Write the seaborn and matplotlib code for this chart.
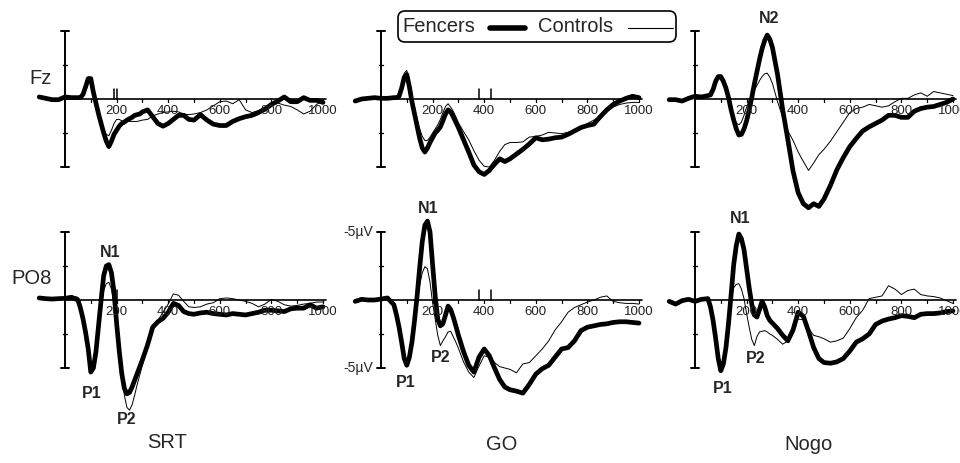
import matplotlib
matplotlib.use("Agg")
import matplotlib.pyplot as plt
import seaborn as sns
from matplotlib.patches import FancyBboxPatch

# time points (ms)
t = [-100, -75, -50, -25, 0, 25, 50, 60, 70, 80, 90, 100, 110, 120, 130, 140, 150,
     160, 170, 180, 190, 200, 210, 220, 230, 240, 250, 260, 270, 280, 290, 300,
     320, 340, 360, 380, 400, 420, 440, 460, 480, 500, 525, 550, 575, 600, 625,
     650, 675, 700, 725, 750, 775, 800, 825, 850, 875, 900, 925, 950, 975, 1000]

# amplitudes in microvolt (negative is drawn upwards)
fz_srt_fencers = [-0.15, -0.05, 0.05, 0.05, -0.15, -0.1, -0.1, -0.1, -0.35, -0.9, -1.5, -1.5, -0.5, 0.3, 1.1, 1.8, 2.5,
                  3.1, 3.5, 3.1, 2.6, 2.3, 2.0, 1.8, 1.7, 1.55, 1.45, 1.35, 1.2, 1.15, 1.1, 0.95,
                  0.8, 1.3, 1.8, 2.0, 1.8, 1.5, 1.2, 1.2, 1.5, 1.55, 1.15, 1.55, 1.85, 1.95, 1.95,
                  1.65, 1.45, 1.3, 1.2, 1.0, 0.75, 0.4, 0.15, -0.15, 0.2, 0.2, -0.1, 0.1, 0.1, 0.25]
fz_srt_controls = [-0.1, 0.0, 0.05, 0.05, -0.1, -0.1, -0.05, -0.1, -0.4, -1.0, -1.6, -1.6, -0.7, 0.1, 0.9, 1.6, 2.2,
                   2.6, 2.7, 2.3, 1.8, 1.5, 1.5, 1.6, 1.65, 1.65, 1.65, 1.65, 1.65, 1.65, 1.6, 1.55,
                   1.5, 1.25, 1.1, 1.0, 0.95, 0.9, 0.95, 1.1, 1.15, 1.1, 1.0, 0.8, 0.5, 0.2, 0.15,
                   0.35, 0.05, 0.8, 1.0, 0.85, 0.6, 0.5, 0.3, 0.45, 0.55, 0.8, 1.1, 0.9, 0.4, 0.15]
fz_go_fencers = [0.15, 0.0, -0.05, -0.1, -0.05, -0.05, -0.1, -0.1, -0.2, -0.8, -1.6, -1.8, -0.9, 0.2, 1.1, 2.0, 2.9,
                 3.6, 3.9, 3.6, 3.2, 2.85, 2.5, 2.3, 2.05, 1.6, 1.1, 0.8, 0.95, 1.3, 1.7, 2.1,
                 3.0, 3.9, 4.85, 5.35, 5.55, 5.25, 4.8, 4.4, 4.6, 4.4, 4.05, 3.7, 3.3, 2.85, 3.0,
                 2.95, 2.85, 2.8, 2.6, 2.35, 2.1, 1.95, 1.85, 1.3, 0.8, 0.4, 0.15, -0.05, -0.2, -0.1]
fz_go_controls = [0.15, 0.0, -0.05, -0.1, -0.05, -0.05, -0.1, -0.1, -0.3, -1.0, -1.9, -2.1, -1.2, -0.2, 0.7, 1.5, 2.2,
                  2.75, 3.05, 3.05, 2.8, 2.5, 2.2, 1.9, 1.5, 1.0, 0.55, 0.35, 0.6, 0.9, 1.3, 1.75,
                  2.4, 3.0, 3.8, 4.5, 4.95, 5.0, 4.5, 3.85, 3.35, 3.2, 3.2, 3.15, 2.8, 2.75, 2.65,
                  2.45, 2.5, 2.55, 2.45, 2.4, 2.2, 1.8, 1.55, 1.25, 0.95, 0.6, 0.4, 0.3, 0.25, 0.25]
fz_nogo_fencers = [0.05, 0.05, 0.15, -0.05, -0.2, -0.15, -0.25, -0.3, -0.7, -1.3, -1.65, -1.65, -1.3, -0.8, -0.1, 0.8, 1.55,
                   2.2, 2.65, 2.6, 2.2, 1.6, 0.8, -0.1, -1.1, -2.0, -2.9, -3.7, -4.3, -4.7, -4.4, -3.8,
                   -1.8, 0.8, 3.0, 5.3, 6.9, 7.7, 8.0, 7.7, 7.9, 7.35, 6.35, 5.2, 4.3, 3.5, 2.9,
                   2.35, 2.05, 1.8, 1.55, 1.2, 1.2, 1.35, 1.35, 0.9, 0.7, 0.6, 0.55, 0.4, 0.25, 0.0]
fz_nogo_controls = [0.05, 0.05, 0.15, -0.05, -0.2, -0.15, -0.25, -0.3, -0.7, -1.2, -1.55, -1.55, -1.2, -0.7, -0.1, 0.7, 1.3,
                    1.75, 1.9, 1.7, 1.2, 0.6, 0.1, -0.3, -0.65, -1.0, -1.35, -1.65, -1.85, -1.9, -1.6, -1.15,
                    0.2, 1.35, 2.35, 3.05, 3.9, 4.6, 5.25, 4.7, 4.1, 3.7, 3.1, 2.4, 1.7, 1.0, 0.7,
                    0.6, 0.4, 0.5, 0.6, 0.5, 0.2, -0.05, -0.05, -0.3, -0.45, -0.2, -0.55, -0.45, -0.35, -0.25]
po8_srt_fencers = [-0.15, -0.1, -0.07, -0.1, -0.12, -0.2, 0.0, 0.6, 1.4, 2.4, 3.6, 5.3, 5.0, 3.8, 1.9, 0.0, -1.8,
                   -2.5, -2.6, -2.0, -0.6, 1.7, 3.7, 5.4, 6.5, 6.9, 6.8, 6.4, 5.9, 5.4, 4.9, 4.4,
                   3.3, 2.0, 1.6, 1.35, 0.9, 0.25, 0.4, 0.85, 1.0, 1.05, 0.95, 0.9, 1.0, 1.05, 1.1,
                   1.0, 1.05, 1.1, 1.0, 0.9, 0.75, 0.75, 0.8, 0.85, 0.65, 0.6, 0.6, 0.35, 0.6, 0.5]
po8_srt_controls = [-0.15, -0.1, -0.07, -0.1, -0.1, -0.3, -0.2, 0.5, 1.3, 2.3, 3.5, 5.2, 5.1, 3.9, 2.1, 0.5, -0.7,
                    -1.2, -1.3, -0.8, 0.3, 2.0, 3.9, 5.6, 7.0, 7.9, 8.1, 7.7, 7.0, 6.2, 5.5, 4.8,
                    3.4, 2.0, 1.5, 0.9, 0.3, -0.45, -0.35, 0.1, 0.5, 0.55, 0.5, 0.3, 0.2, -0.1, -0.15,
                    -0.1, 0.0, 0.1, 0.25, 0.5, 0.3, -0.05, 0.1, 0.35, 0.45, 0.4, 0.3, 0.25, 0.15, 0.15]
po8_go_fencers = [0.1, -0.05, 0.0, 0.0, -0.07, -0.15, 0.35, 1.1, 2.0, 3.1, 4.3, 4.8, 4.2, 3.1, 1.5, -0.3, -2.4,
                  -4.3, -5.5, -5.8, -5.0, -2.6, -0.3, 1.4, 1.9, 1.75, 1.1, 0.45, 0.7, 1.25, 1.9, 2.6,
                  3.8, 4.8, 5.3, 4.2, 3.6, 4.1, 5.0, 5.85, 6.4, 6.6, 6.7, 6.85, 6.2, 5.45, 5.05,
                  4.8, 4.2, 3.6, 3.5, 3.0, 2.25, 2.0, 1.9, 1.8, 1.75, 1.65, 1.6, 1.6, 1.65, 1.7]
po8_go_controls = [0.1, -0.05, 0.0, 0.0, -0.07, -0.15, 0.3, 1.0, 1.9, 3.0, 4.2, 4.7, 4.1, 3.0, 1.6, 0.2, -1.1,
                   -2.0, -2.45, -2.3, -1.3, 0.2, 1.4, 2.6, 3.35, 3.0, 2.7, 2.35, 2.3, 2.7, 3.1, 3.55,
                   4.55, 5.3, 5.7, 4.85, 4.1, 4.2, 4.6, 4.9, 5.0, 5.1, 5.35, 4.7, 4.6, 4.1, 3.6,
                   3.0, 2.2, 1.6, 0.9, 0.55, 0.35, 0.15, 0.0, -0.2, -0.3, 0.1, 0.2, 0.25, 0.25, 0.3]
po8_nogo_fencers = [0.1, 0.3, 0.05, -0.05, 0.1, -0.05, -0.1, 0.5, 1.5, 2.8, 4.3, 5.2, 4.7, 3.5, 1.7, -0.4, -2.6,
                    -4.0, -4.85, -4.5, -3.7, -2.3, -0.9, 0.3, 1.1, 1.25, 0.7, 0.1, 0.5, 1.15, 1.5, 1.7,
                    2.1, 2.6, 3.0, 2.2, 0.9, 1.2, 2.3, 3.5, 4.3, 4.6, 4.65, 4.55, 4.3, 3.75, 3.1,
                    2.85, 2.5, 1.8, 1.55, 1.4, 1.3, 1.15, 1.2, 1.3, 1.05, 1.0, 1.0, 0.95, 0.85, 0.8]
po8_nogo_controls = [0.1, 0.3, 0.05, -0.05, 0.1, -0.05, -0.1, 0.5, 1.5, 2.8, 4.2, 5.0, 4.5, 3.2, 1.5, 0.0, -0.9,
                     -1.15, -1.2, -0.8, -0.1, 1.0, 2.0, 2.9, 3.35, 2.7, 2.35, 2.3, 2.25, 2.35, 2.5, 2.6,
                     2.9, 3.25, 3.0, 1.9, 1.4, 1.45, 2.1, 2.6, 2.7, 2.85, 3.1, 3.0, 2.8, 2.1, 1.3,
                     0.75, -0.1, -0.2, -0.3, -1.05, -0.8, -0.4, -0.7, -0.8, -0.4, -0.3, -0.25, -0.15, 0.05, 0.25]

# reaction time marks (ms)
rt_srt = [190, 202]
rt_go = [380, 426]

x_labels = [200, 400, 600, 800, 1000]

sns.set_style("white")
plt.rcParams['font.family'] = ['Liberation Sans', 'DejaVu Sans']

W, H = 960, 463
fig = plt.figure(figsize=(W / 100, H / 100), dpi=100)

PX_MS = 0.258    # pixels per ms
PX_UV = 13.6     # pixels per microvolt


def make_axes(x0, y0):
    # x0, y0: pixel position of (0 ms, 0 uV)
    left = x0 - 150 * PX_MS
    top = y0 - 10 * PX_UV
    w = 1210 * PX_MS
    h = 20 * PX_UV
    ax = fig.add_axes([left / W, (H - top - h) / H, w / W, h / H])
    ax.set_xlim(-150, 1060)
    ax.set_ylim(10, -10)
    ax.axis('off')
    ax.patch.set_alpha(0)
    return ax


def draw_frame(ax, rts):
    ax.plot([0, 1010], [0, 0], color='black', lw=1.2)
    ax.plot([0, 0], [-5, 5], color='black', lw=1.4)
    for v in (-5, 5):
        ax.plot([-15, 15], [v, v], color='black', lw=1.4)
    for v in (-2.5, 2.5):
        ax.plot([-8, 8], [v, v], color='black', lw=1.0)
    for ms in range(100, 1001, 100):
        ax.plot([ms, ms], [0, 0.22], color='black', lw=0.9)
    for lab in x_labels:
        ax.text(lab, 0.9, str(lab), ha='center', va='center', fontsize=9.5, color='#222222')
    for r in rts:
        ax.plot([r, r], [0, -0.7], color='black', lw=1.1)


panels = [
    (65, 99, fz_srt_fencers, fz_srt_controls, rt_srt),
    (381, 99, fz_go_fencers, fz_go_controls, rt_go),
    (695, 99, fz_nogo_fencers, fz_nogo_controls, []),
    (65, 300, po8_srt_fencers, po8_srt_controls, rt_srt),
    (381, 300, po8_go_fencers, po8_go_controls, rt_go),
    (695, 300, po8_nogo_fencers, po8_nogo_controls, []),
]

axes = []
for x0, y0, fen, con, rts in panels:
    ax = make_axes(x0, y0)
    draw_frame(ax, rts)
    sns.lineplot(x=t, y=fen, ax=ax, color='black', linewidth=3.4, estimator=None, legend=False)
    sns.lineplot(x=t, y=con, ax=ax, color='black', linewidth=0.7, estimator=None, legend=False)
    ax.set_xlim(-150, 1060)
    ax.set_ylim(10, -10)
    ax.axis('off')
    axes.append(ax)

# component labels
bold = dict(fontsize=11.5, fontweight='bold', ha='center', va='center')
axes[2].text(287, -5.9, 'N2', **bold)
axes[3].text(174, -3.5, 'N1', **bold)
axes[3].text(105, 6.9, 'P1', **bold)
axes[3].text(240, 8.8, 'P2', **bold)
axes[4].text(182, -6.7, 'N1', **bold)
axes[4].text(97, 6.1, 'P1', **bold)
axes[4].text(233, 4.2, 'P2', **bold)
axes[5].text(174, -6.0, 'N1', **bold)
axes[5].text(109, 6.5, 'P1', **bold)
axes[5].text(236, 4.3, 'P2', **bold)
axes[4].text(-31, -5, '-5\u00b5V', fontsize=10, ha='right', va='center')
axes[4].text(-31, 5, '-5\u00b5V', fontsize=10, ha='right', va='center')

# overlay in pixel coordinates for titles and legend
ov = fig.add_axes([0, 0, 1, 1])
ov.set_xlim(0, W)
ov.set_ylim(H, 0)
ov.axis('off')
ov.patch.set_alpha(0)

ov.text(41, 78, 'Fz', fontsize=14.5, ha='center', va='center')
ov.text(32, 279, 'PO8', fontsize=14.5, ha='center', va='center')
ov.text(167, 442, 'SRT', fontsize=14.5, ha='center', va='center')
ov.text(502, 445, 'GO', fontsize=14.5, ha='center', va='center')
ov.text(808, 445, 'Nogo', fontsize=14.5, ha='center', va='center')

box = FancyBboxPatch((398, 11), 278, 31, boxstyle='round,pad=0,rounding_size=7',
                     fc='white', ec='black', lw=1.2)
ov.add_patch(box)
ov.text(402, 27, 'Fencers', fontsize=14.5, ha='left', va='center')
ov.plot([490, 525], [28, 28], color='black', lw=4)
ov.text(538, 27, 'Controls', fontsize=14.5, ha='left', va='center')
ov.plot([628, 673], [28, 28], color='black', lw=0.8)

fig.savefig('out.png', dpi=100)
